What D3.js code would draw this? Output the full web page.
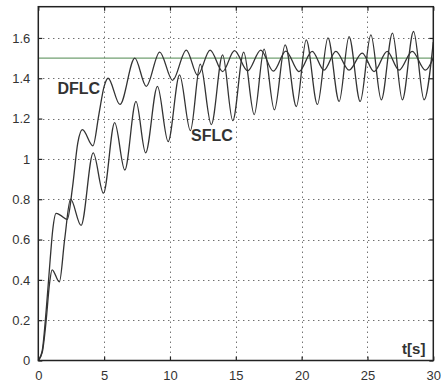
<!DOCTYPE html>
<html>
<head>
<meta charset="utf-8">
<script src="https://cdn.jsdelivr.net/npm/d3@7"></script>
<style>
  body { margin: 0; background: #fff; }
  text { font-family: "Liberation Sans", Arial, sans-serif; }
</style>
</head>
<body>
<svg id="chart" width="441" height="382"></svg>
<script>
// time axis ticks and value ticks
var xTicks = [0, 5, 10, 15, 20, 25, 30];
var yTicks = [0, 0.2, 0.4, 0.6, 0.8, 1, 1.2, 1.4, 1.6];
var refLevel = 1.5;

// DFLC response (mostly turning points)
var dflcT = [0, 0.3, 0.6, 0.9, 1.1, 1.35, 1.7, 2.2, 2.6, 3.0, 3.35, 4.15, 4.6, 5.0, 5.3, 6.2, 7.33, 8.2, 9.22, 10.2,
             11.24, 12.1, 13.05, 14.0, 14.9, 15.9, 16.9, 17.85, 18.8, 19.8, 20.8, 21.7, 22.6, 23.6, 24.6, 25.5,
             26.5, 27.4, 28.4, 29.4, 30];
var dflcV = [0, 0.05, 0.25, 0.5, 0.65, 0.73, 0.72, 0.70, 0.86, 1.08, 1.145, 1.065, 1.22, 1.36, 1.40, 1.27, 1.50, 1.36, 1.53, 1.39,
             1.54, 1.415, 1.54, 1.433, 1.537, 1.437, 1.54, 1.435, 1.535, 1.433, 1.533, 1.44, 1.533, 1.44, 1.525, 1.433,
             1.533, 1.44, 1.533, 1.44, 1.50];

// SFLC response
var sflcT = [0, 0.3, 0.6, 0.85, 1.05, 1.6, 2.0, 2.45, 3.25, 4.17, 4.95, 5.8, 6.57, 7.42, 8.15, 9.05, 9.86, 10.73, 11.55,
             12.3, 13.14, 14.0, 14.77, 15.6, 16.4, 17.15, 17.93, 18.75, 19.6, 20.35, 21.2, 22.0, 22.85, 23.6, 24.45,
             25.26, 26.05, 26.9, 27.65, 28.5, 29.3, 30];
var sflcV = [0, 0.04, 0.2, 0.38, 0.45, 0.39, 0.6, 0.80, 0.67, 1.03, 0.83, 1.18, 0.945, 1.285, 1.03, 1.36, 1.086, 1.417, 1.14,
             1.47, 1.17, 1.516, 1.19, 1.53, 1.22, 1.545, 1.243, 1.566, 1.26, 1.59, 1.27, 1.60, 1.285, 1.607, 1.285,
             1.615, 1.293, 1.624, 1.293, 1.632, 1.293, 1.58];

var svg = d3.select("#chart");
var plotL = 38.3, plotR = 433.3, plotT = 6.7, plotB = 360.5;

var x = d3.scaleLinear().domain([0, 30]).range([plotL, plotR]);
var y = d3.scaleLinear().domain([0, 1.755]).range([plotB, plotT]);

// dotted grid
var grid = svg.append("g")
    .attr("stroke", "#333")
    .attr("stroke-width", 1)
    .attr("stroke-dasharray", "1,4");
grid.selectAll("line.gx")
    .data(xTicks.slice(1, -1))
    .enter().append("line")
    .attr("x1", function(d) { return Math.round(x(d)) + 0.5; })
    .attr("x2", function(d) { return Math.round(x(d)) + 0.5; })
    .attr("y1", plotT).attr("y2", plotB);
grid.selectAll("line.gy")
    .data(yTicks.slice(1))
    .enter().append("line")
    .attr("y1", function(d) { return Math.round(y(d)) + 0.5; })
    .attr("y2", function(d) { return Math.round(y(d)) + 0.5; })
    .attr("x1", plotL).attr("x2", plotR);

// reference level
svg.append("line")
    .attr("x1", plotL).attr("x2", plotR)
    .attr("y1", y(refLevel)).attr("y2", y(refLevel))
    .attr("stroke", "#72a072")
    .attr("stroke-width", 1.3);

// curves
var line = d3.line()
    .x(function(d) { return x(d[0]); })
    .y(function(d) { return y(d[1]); })
    .curve(d3.curveMonotoneX);

svg.append("path")
    .datum(d3.zip(sflcT, sflcV))
    .attr("fill", "none")
    .attr("stroke", "#333")
    .attr("stroke-width", 1.3)
    .attr("d", line);

svg.append("path")
    .datum(d3.zip(dflcT, dflcV))
    .attr("fill", "none")
    .attr("stroke", "#333")
    .attr("stroke-width", 1.3)
    .attr("d", line);

// axes, ticks inside like matlab
var fmt = function(d) { return String(d); };
var xAxisB = d3.axisBottom(x).tickValues(xTicks).tickSizeInner(-4).tickSizeOuter(0).tickPadding(10).tickFormat(fmt);
var xAxisT = d3.axisTop(x).tickValues(xTicks).tickSizeInner(-4).tickSizeOuter(0).tickFormat("");
var yAxisL = d3.axisLeft(y).tickValues(yTicks).tickSizeInner(-4).tickSizeOuter(0).tickPadding(8).tickFormat(fmt);
var yAxisR = d3.axisRight(y).tickValues(yTicks).tickSizeInner(-4).tickSizeOuter(0).tickFormat("");

function styleAxis(g) {
  g.select(".domain").remove();
  g.selectAll(".tick line").attr("stroke", "#222").attr("stroke-width", 1.2);
  g.selectAll("text")
    .style("font-family", '"Liberation Sans", Arial, sans-serif')
    .style("font-size", "13px")
    .attr("fill", "#333");
}

svg.append("g").attr("transform", "translate(0," + plotB + ")").call(xAxisB).call(styleAxis);
svg.append("g").attr("transform", "translate(0," + plotT + ")").call(xAxisT).call(styleAxis);
svg.append("g").attr("transform", "translate(" + plotL + ",0)").call(yAxisL).call(styleAxis);
svg.append("g").attr("transform", "translate(" + plotR + ",0)").call(yAxisR).call(styleAxis);

// box
svg.append("rect")
    .attr("x", plotL).attr("y", plotT)
    .attr("width", plotR - plotL).attr("height", plotB - plotT)
    .attr("fill", "none")
    .attr("stroke", "#222")
    .attr("stroke-width", 1.5);

// labels
svg.append("text")
    .attr("x", x(4.7)).attr("y", y(1.32))
    .attr("text-anchor", "end")
    .attr("font-size", 16).attr("font-weight", "bold").attr("fill", "#333")
    .text("DFLC");
svg.append("text")
    .attr("x", x(11.6)).attr("y", y(1.09))
    .attr("font-size", 16).attr("font-weight", "bold").attr("fill", "#333")
    .text("SFLC");
svg.append("text")
    .attr("x", x(29.4)).attr("y", y(0.03))
    .attr("text-anchor", "end")
    .attr("font-size", 15).attr("font-weight", "bold").attr("fill", "#333")
    .text("t[s]");
</script>
</body>
</html>
